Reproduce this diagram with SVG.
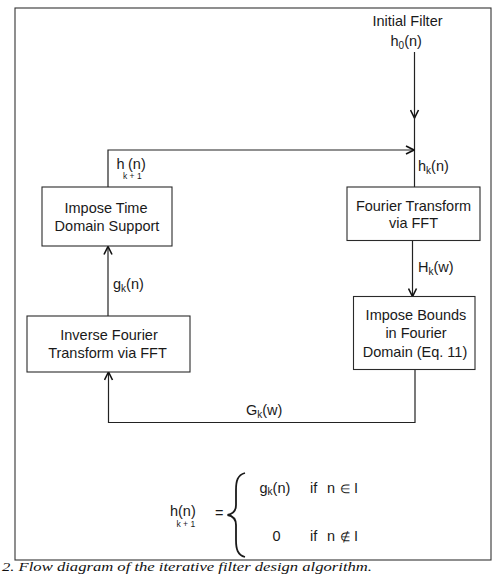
<svg xmlns="http://www.w3.org/2000/svg" width="499" height="584" viewBox="0 0 499 584">
<style>
.box{fill:#fff;stroke:#2a2a2a;stroke-width:1.1}
.ln{fill:none;stroke:#222;stroke-width:1.2}
.t{font-family:"Liberation Sans",Arial,sans-serif;font-size:14.5px;fill:#1a1a1a;text-anchor:middle}
.l{font-family:"Liberation Sans",Arial,sans-serif;font-size:14.5px;fill:#1a1a1a}
.s{font-size:10px}
.ss{font-size:8.5px}
.cap{font-family:"Liberation Serif","Times New Roman",serif;font-style:italic;font-size:12.5px;fill:#111}
</style>
<defs>
<marker id="arr" viewBox="0 0 10 10" refX="9" refY="5" markerWidth="10" markerHeight="10" markerUnits="userSpaceOnUse" orient="auto">
<path d="M1,1 L9,5 L1,9" fill="none" stroke="#111" stroke-width="1.6"/>
</marker>
</defs>
<rect x="0" y="0" width="499" height="584" fill="#fff"/>
<rect x="15" y="8" width="476" height="552" fill="none" stroke="#333" stroke-width="1.1"/>

<g id="connectors">
<line class="ln" x1="414.5" y1="52" x2="414.5" y2="118" marker-end="url(#arr)"/>
<line class="ln" x1="414.5" y1="116" x2="414.5" y2="187"/>
<polyline class="ln" points="108,187 108,150 414,150" marker-end="url(#arr)"/>
<line class="ln" x1="412.5" y1="240" x2="412.5" y2="296.5" marker-end="url(#arr)"/>
<polyline class="ln" points="415,370 415,422.5 108.5,422.5 108.5,372" marker-end="url(#arr)"/>
<line class="ln" x1="108" y1="316" x2="108" y2="246.5" marker-end="url(#arr)"/>
</g>

<g id="initial">
<text class="t" x="407.5" y="26">Initial Filter</text>
<text class="l" x="390.5" y="46">h<tspan class="s" dy="3">0</tspan><tspan dy="-3">(n)</tspan></text>
</g>

<g id="labels">
<text class="l" x="116.5" y="169">h</text>
<text class="l ss" x="123" y="179">k + 1</text>
<text class="l" x="128" y="169">(n)</text>
<text class="l" x="418" y="171">h<tspan class="s" dy="3">k</tspan><tspan dy="-3">(n)</tspan></text>
<text class="l" x="418" y="272">H<tspan class="s" dy="3">k</tspan><tspan dy="-3">(w)</tspan></text>
<text class="l" x="113" y="289">g<tspan class="s" dy="3">k</tspan><tspan dy="-3">(n)</tspan></text>
<text class="l" x="246" y="415">G<tspan class="s" dy="3">k</tspan><tspan dy="-3">(w)</tspan></text>
</g>

<g id="time-support">
<rect class="box" x="42" y="187" width="130" height="59"/>
<text class="t" x="106" y="213">Impose Time</text>
<text class="t" x="107" y="231">Domain Support</text>
</g>

<g id="fft">
<rect class="box" x="347" y="187" width="133" height="53.5"/>
<text class="t" x="413.5" y="211">Fourier Transform</text>
<text class="t" x="413.5" y="228">via FFT</text>
</g>

<g id="bounds">
<rect class="box" x="353.5" y="296.5" width="121.5" height="73"/>
<text class="t" x="416" y="320">Impose Bounds</text>
<text class="t" x="416" y="338">in Fourier</text>
<text class="t" x="415" y="357">Domain (Eq. 11)</text>
</g>

<g id="ifft">
<rect class="box" x="27" y="316" width="163" height="56"/>
<text class="t" x="109" y="340">Inverse Fourier</text>
<text class="t" x="107.5" y="358">Transform via FFT</text>
</g>

<g id="formula">
<text class="l" x="170" y="516">h</text>
<text class="l ss" x="176.5" y="527">k + 1</text>
<text class="l" x="178" y="516">(n)</text>
<text class="l" x="215" y="518">=</text>
<path d="M245,473 C237.5,475 236,481 236,490 L236,505 C236,511 233,514 227.5,515 C233,516 236,519 236,525 L236,540 C236,549 237.5,555 245,557" fill="none" stroke="#1a1a1a" stroke-width="1.8"/>
<text class="l" x="259.5" y="493">g<tspan class="s" dy="2">k</tspan><tspan dy="-2">(n)</tspan></text>
<text class="l" x="310" y="493">if<tspan x="327">n</tspan><tspan x="340" font-size="12">∈</tspan><tspan x="354">I</tspan></text>
<text class="l" x="272.5" y="541">0</text>
<text class="l" x="310" y="541">if<tspan x="327">n</tspan><tspan x="340" font-size="12">∉</tspan><tspan x="354">I</tspan></text>
</g>

<text class="cap" x="2" y="571" textLength="370" lengthAdjust="spacingAndGlyphs">2. Flow diagram of the iterative filter design algorithm.</text>
</svg>
